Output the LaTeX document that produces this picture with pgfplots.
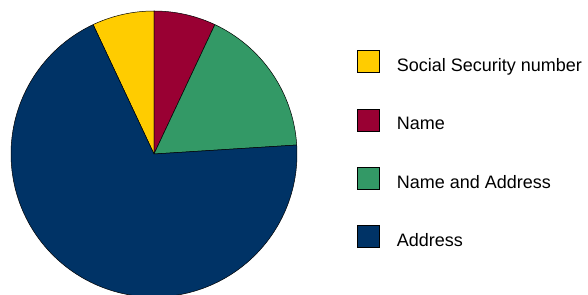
\documentclass[border=0pt]{standalone}
\usepackage{pgfplots}
\usepackage{pgfplotstable}
\pgfplotsset{compat=1.18}
\usepackage{fontspec}
\setmainfont{Liberation Sans}
\definecolor{cYellow}{HTML}{FFCC00}
\definecolor{cRed}{HTML}{990033}
\definecolor{cGreen}{HTML}{339966}
\definecolor{cNavy}{HTML}{003366}

\pgfplotstableread{
label value
SSN 7
Name 7
NameAddress 17
Address 69
}\piedata

\begin{document}
\begin{tikzpicture}
\pgfplotstablegetelem{0}{value}\of\piedata \let\vSSN\pgfplotsretval
\pgfplotstablegetelem{1}{value}\of\piedata \let\vName\pgfplotsretval
\pgfplotstablegetelem{2}{value}\of\piedata \let\vNA\pgfplotsretval
\pgfplotstablegetelem{3}{value}\of\piedata \let\vAddr\pgfplotsretval
\pgfmathsetmacro\aA{0}
\pgfmathsetmacro\aB{\vName*3.6}
\pgfmathsetmacro\aC{(\vName+\vNA)*3.6}
\pgfmathsetmacro\aD{(\vName+\vNA+\vAddr)*3.6}
\pgfmathsetmacro\aE{(\vName+\vNA+\vAddr+\vSSN)*3.6}
\def\cx{154}\def\cy{141}\def\rr{143}
\begin{axis}[
  scale only axis, width=588bp, height=295bp,
  xmin=0, xmax=588, ymin=0, ymax=295,
  hide axis,
  legend image code/.code={\draw[#1,draw=black,line width=0.6pt] (0bp,-6.5bp) rectangle (22bp,15.5bp);},
  legend style={at={(axis cs:357,245)}, anchor=north west, draw=none, fill=none,
    inner sep=0pt, row sep=35.4bp, column sep=17bp, nodes={inner sep=0pt},
    font=\fontsize{18bp}{21bp}\selectfont},
  legend cell align=left,
]
\addplot[fill=cYellow, draw=black, line width=0.5pt, domain=\aD:\aE, samples=40, variable=\t]
  ({\cx+\rr*sin(\t)},{\cy+\rr*cos(\t)}) -- (axis cs:\cx,\cy) -- cycle;
\addlegendentry{Social Security number}
\addplot[fill=cRed, draw=black, line width=0.5pt, domain=\aA:\aB, samples=40, variable=\t]
  ({\cx+\rr*sin(\t)},{\cy+\rr*cos(\t)}) -- (axis cs:\cx,\cy) -- cycle;
\addlegendentry{Name}
\addplot[fill=cGreen, draw=black, line width=0.5pt, domain=\aB:\aC, samples=60, variable=\t]
  ({\cx+\rr*sin(\t)},{\cy+\rr*cos(\t)}) -- (axis cs:\cx,\cy) -- cycle;
\addlegendentry{Name and Address}
\addplot[fill=cNavy, draw=black, line width=0.5pt, domain=\aC:\aD, samples=150, variable=\t]
  ({\cx+\rr*sin(\t)},{\cy+\rr*cos(\t)}) -- (axis cs:\cx,\cy) -- cycle;
\addlegendentry{Address}
\end{axis}
\pgfresetboundingbox
\path[use as bounding box] (current axis.south west) rectangle (current axis.north east);
\end{tikzpicture}
\end{document}
